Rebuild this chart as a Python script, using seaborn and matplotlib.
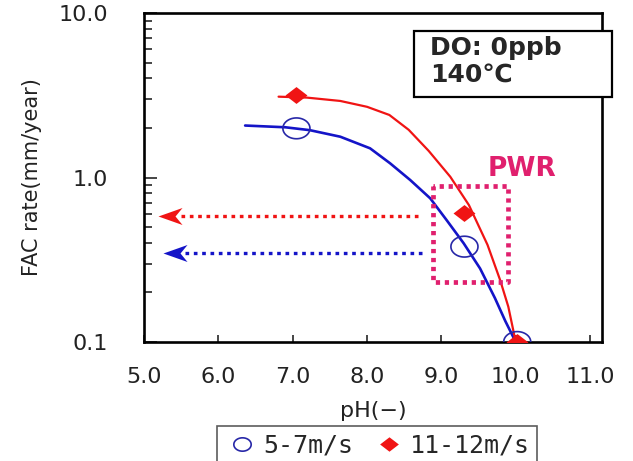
import matplotlib
matplotlib.use("Agg")
import matplotlib.pyplot as plt
import seaborn as sns
import numpy as np
import pandas as pd
from matplotlib.lines import Line2D
from matplotlib.path import Path
from matplotlib.patches import Rectangle

# ---- data ----
ph_points = [7.05, 9.31, 10.02]
fac_low = [1.99, 0.38, 0.1]      # 5-7 m/s (open circles)
fac_high = [3.17, 0.606, 0.1]    # 11-12 m/s (red diamonds)

curve_low_ph = [6.36, 6.90, 7.23, 7.64, 8.04, 8.31, 8.58, 8.85, 9.07, 9.30, 9.52, 9.72, 9.86, 10.0]
curve_low_fac = [2.07, 2.02, 1.94, 1.77, 1.505, 1.22, 0.966, 0.747, 0.551, 0.398, 0.28, 0.185, 0.134, 0.100]
curve_high_ph = [6.81, 7.19, 7.64, 8.00, 8.30, 8.56, 8.83, 9.12, 9.37, 9.62, 9.79, 9.90, 10.0]
curve_high_fac = [3.10, 3.06, 2.92, 2.69, 2.40, 1.95, 1.45, 1.01, 0.68, 0.39, 0.238, 0.164, 0.100]

arrow_red = (8.69, 5.19, 0.583)     # from x, tip x, y
arrow_blue = (8.74, 5.26, 0.348)
pwr_box = (8.89, 9.90, 0.232, 0.888)

x_ticks = [5.0, 6.0, 7.0, 8.0, 9.0, 10.0, 11.0]
x_ticklabels = ["5.0", "6.0", "7.0", "8.0", "9.0", "10.0", "11.0"]
y_ticks = [0.1, 1.0, 10.0]
y_ticklabels = ["0.1", "1.0", "10.0"]
legend_labels = ["5-7m/s", "11-12m/s"]

sns.set_style("white")
plt.rcParams['font.family'] = ['DejaVu Sans']

fig = plt.figure(figsize=(6.33, 4.61), dpi=100)
ax = fig.add_axes([0.2275, 0.2581, 0.7235, 0.7137])

BLUE = "#1414c8"
MBLUE = "#2828a8"
RED = "#f01414"
PINK = "#e0206e"

# stretched marker shapes (reference picture is horizontally stretched)
t = np.linspace(0, 2 * np.pi, 60)
ellipse = Path(np.column_stack([1.3 * np.cos(t), np.sin(t)]), closed=True)
diamond = Path([(-1.3, 0), (0, 1), (1.3, 0), (0, -1), (-1.3, 0)], closed=True)
arrowhead = Path([(0, 0), (24, 8.5), (17, 0), (24, -8.5), (0, 0)], closed=True)

df_low = pd.DataFrame({"pH": curve_low_ph, "FAC": curve_low_fac})
df_high = pd.DataFrame({"pH": curve_high_ph, "FAC": curve_high_fac})
sns.lineplot(data=df_low, x="pH", y="FAC", ax=ax, color=BLUE, lw=1.9, sort=False, estimator=None)
sns.lineplot(data=df_high, x="pH", y="FAC", ax=ax, color=RED, lw=1.6, sort=False, estimator=None)

ax.set_yscale("log")
ax.set_xlim(5.0, 11.16)
ax.set_ylim(0.1, 10.0)

# dotted arrows
for (x0, x1, y), c in [(arrow_red, RED), (arrow_blue, BLUE)]:
    ax.plot([x0, x1 + 0.26], [y, y], color=c, lw=2.4, ls=(0, (1.1, 1.4)), solid_capstyle="butt")
    ax.plot([x1], [y], marker=arrowhead, markersize=34.6, color=c, markeredgewidth=0, ls="none")

# PWR box
x0, x1, y0, y1 = pwr_box
ax.plot([x0, x1, x1, x0, x0], [y1, y1, y0, y0, y1], color=PINK, lw=3.4, ls=(0.6, (0.9, 1.0)),
        solid_capstyle="butt")
ax.text(10.09, 1.13, "PWR", color=PINK, fontsize=19, fontweight="bold", ha="center", va="center")

# markers
sns.scatterplot(x=ph_points, y=fac_low, ax=ax, marker=ellipse, s=380, facecolor="none",
                edgecolor=MBLUE, linewidth=1.2, zorder=5)
sns.scatterplot(x=ph_points, y=fac_high, ax=ax, marker=diamond, s=250, color=RED,
                edgecolor=RED, linewidth=0, zorder=6)

# spines/ticks
for s in ax.spines.values():
    s.set_color("black")
    s.set_linewidth(1.9)
ax.set_xticks(x_ticks)
ax.set_xticklabels(x_ticklabels)
ax.set_yticks(y_ticks)
ax.set_yticklabels(y_ticklabels)
ax.yaxis.set_minor_locator(matplotlib.ticker.LogLocator(base=10, subs=np.arange(2, 10)))
ax.yaxis.set_minor_formatter(matplotlib.ticker.NullFormatter())
ax.tick_params(axis="x", which="major", direction="in", length=5, width=1.2, labelsize=16, pad=18,
               bottom=True, labelcolor="#222222")
ax.tick_params(axis="y", which="major", direction="in", length=9, width=1.2, labelsize=16, pad=26,
               left=True, labelcolor="#222222")
ax.tick_params(axis="y", which="minor", direction="in", length=6, width=1.2, left=True)
ax.set_xlabel("pH(−)", fontsize=16, labelpad=10, color="#222222")
ax.set_ylabel("FAC rate(mm/year)", fontsize=15, labelpad=12, color="#222222")

# DO box
fig.patches.append(Rectangle((0.654, 0.790), 0.313, 0.143, transform=fig.transFigure,
                             fc="white", ec="black", lw=1.6, zorder=10))
fig.text(0.679, 0.896, "DO: 0ppb", fontsize=18, fontweight="bold", ha="left", va="center", zorder=11)
fig.text(0.679, 0.838, "140℃", fontsize=18, fontweight="bold", ha="left", va="center", zorder=11)

# legend
handles = [Line2D([], [], marker=ellipse, ls="none", markersize=12.5, markerfacecolor="none",
                  markeredgecolor=MBLUE, markeredgewidth=1.2),
           Line2D([], [], marker=diamond, ls="none", markersize=13.5, color=RED, markeredgewidth=0)]
leg = fig.legend(handles, legend_labels, loc="upper center", bbox_to_anchor=(0.596, 0.076),
                 borderaxespad=0, ncol=2, frameon=True, fancybox=False, handletextpad=0.15,
                 columnspacing=0.7, handlelength=1.4, borderpad=0.3,
                 prop={"family": "DejaVu Sans Mono", "size": 18})
leg.get_frame().set_edgecolor("#333333")
leg.get_frame().set_linewidth(1.2)

fig.savefig("out.png", dpi=100)
